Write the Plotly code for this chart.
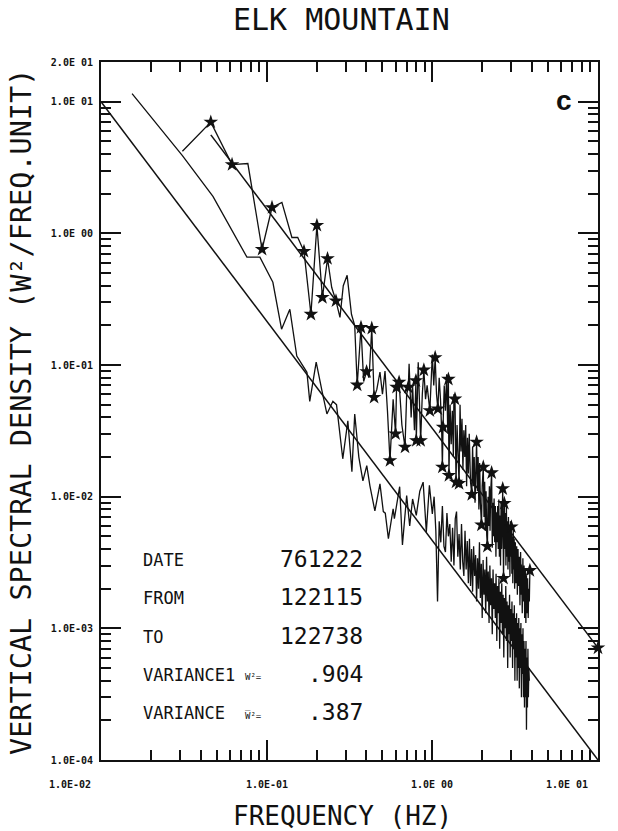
import math
import plotly.graph_objects as go

# ---- spectral estimates (frequency in Hz, density in W^2 per Hz) ----
FREQ_UPPER = [0.031, 0.046, 0.0618, 0.077, 0.0938, 0.1077, 0.1236, 0.142, 0.154, 0.168,
              0.185, 0.201, 0.217, 0.233, 0.247, 0.262, 0.277, 0.290, 0.306, 0.325,
              0.340, 0.352, 0.371, 0.385, 0.401, 0.415, 0.431, 0.445, 0.462, 0.483,
              0.500, 0.518, 0.536, 0.555, 0.580, 0.600, 0.608, 0.630, 0.655, 0.684,
              0.700, 0.716, 0.724, 0.745, 0.760, 0.780, 0.796, 0.800, 0.822, 0.850,
              0.870, 0.889, 0.910, 0.930, 0.966, 0.985,
              1.00, 1.02, 1.04, 1.06, 1.08, 1.10, 1.12, 1.14, 1.15, 1.16,
              1.18, 1.20, 1.22, 1.24, 1.25, 1.26, 1.28, 1.30, 1.32, 1.34,
              1.35, 1.37, 1.39, 1.41, 1.43, 1.45, 1.47, 1.49, 1.51, 1.53,
              1.55, 1.57, 1.59, 1.61, 1.63, 1.65, 1.67, 1.70, 1.73, 1.75,
              1.77, 1.79, 1.81, 1.83, 1.85, 1.87, 1.89, 1.91, 1.93, 1.95,
              1.98, 2.00, 2.03, 2.05, 2.07, 2.09, 2.11, 2.13, 2.15, 2.17,
              2.19, 2.21, 2.23, 2.25, 2.28, 2.30, 2.32, 2.34, 2.36, 2.38,
              2.40, 2.42, 2.44, 2.46, 2.48, 2.50, 2.52, 2.54, 2.56, 2.58,
              2.60, 2.62, 2.64, 2.66, 2.69, 2.72, 2.74, 2.76, 2.78, 2.80,
              2.82, 2.84, 2.86, 2.88, 2.90, 2.92, 2.94, 2.96, 2.98, 3.00,
              3.02, 3.04, 3.06, 3.08, 3.10, 3.12, 3.14, 3.17, 3.20, 3.23,
              3.26, 3.29, 3.32, 3.35, 3.38, 3.41, 3.44, 3.46, 3.49, 3.52,
              3.55, 3.58, 3.61, 3.64, 3.67, 3.70, 3.73, 3.76, 3.79, 3.82,
              3.85, 3.88]
SPEC_UPPER = [4.2, 7.0, 3.33, 3.39, 0.757, 1.57, 1.72, 0.93, 0.93, 0.73,
              0.243, 1.15, 0.326, 0.643, 0.388, 0.307, 0.23, 0.40, 0.48, 0.243,
              0.199, 0.0705, 0.193, 0.075, 0.089, 0.08, 0.19, 0.0569, 0.065, 0.0885,
              0.06, 0.09, 0.045, 0.0188, 0.055, 0.030, 0.0678, 0.074, 0.035, 0.0238,
              0.06, 0.0678, 0.102, 0.04, 0.07, 0.032, 0.076, 0.0267, 0.105, 0.0267,
              0.06, 0.0917, 0.055, 0.07, 0.045, 0.09,
              0.12, 0.07, 0.114, 0.06, 0.0464, 0.08, 0.055, 0.03, 0.0168, 0.0337,
              0.07, 0.045, 0.085, 0.03, 0.078, 0.0145, 0.05, 0.025, 0.045, 0.02,
              0.06, 0.0552, 0.0129, 0.035, 0.018, 0.0126, 0.05, 0.022, 0.039, 0.016,
              0.032, 0.02, 0.035, 0.012, 0.028, 0.015, 0.03, 0.013, 0.0104, 0.024,
              0.012, 0.02, 0.009, 0.022, 0.026, 0.011, 0.02, 0.008, 0.018, 0.009,
              0.0061, 0.012, 0.0168, 0.007, 0.013, 0.0055, 0.011, 0.0051, 0.0042, 0.01,
              0.006, 0.012, 0.0055, 0.011, 0.0152, 0.0041, 0.009, 0.005, 0.0097, 0.0045,
              0.0085, 0.0035, 0.0075, 0.0045, 0.0085, 0.004, 0.0095, 0.0035, 0.0072, 0.003,
              0.009, 0.004, 0.0075, 0.0115, 0.0024, 0.0089, 0.004, 0.0075, 0.003, 0.0084,
              0.0035, 0.0065, 0.0028, 0.007, 0.0032, 0.006, 0.0025, 0.0065, 0.0035, 0.0059,
              0.0026, 0.005, 0.0022, 0.0055, 0.0028, 0.0048, 0.002, 0.0045, 0.0022, 0.0042,
              0.0018, 0.004, 0.0021, 0.0035, 0.0015, 0.0038, 0.0018, 0.0027, 0.0013, 0.0034,
              0.0016, 0.003, 0.0012, 0.0028, 0.0011, 0.0025, 0.0013, 0.0024, 0.0012, 0.002,
              0.0016, 0.00275]
STARRED_UPPER = [0, 1, 1, 0, 1, 1, 0, 0, 0, 1,
                 1, 1, 1, 1, 0, 1, 0, 0, 0, 0,
                 0, 1, 1, 0, 1, 0, 1, 1, 0, 0,
                 0, 0, 0, 1, 0, 1, 1, 1, 0, 1,
                 0, 1, 0, 0, 0, 0, 1, 1, 0, 1,
                 0, 1, 0, 0, 1, 0,
                 0, 0, 1, 0, 1, 0, 0, 0, 1, 1,
                 0, 0, 0, 0, 1, 1, 0, 0, 0, 0,
                 0, 1, 1, 0, 0, 1, 0, 0, 0, 0,
                 0, 0, 0, 0, 0, 0, 0, 0, 1, 0,
                 0, 0, 0, 0, 1, 0, 0, 0, 0, 0,
                 1, 0, 1, 0, 0, 0, 0, 0, 1, 0,
                 0, 0, 0, 0, 1, 0, 0, 0, 0, 0,
                 0, 0, 0, 0, 0, 0, 0, 0, 0, 0,
                 0, 0, 0, 1, 1, 1, 0, 0, 0, 0,
                 0, 0, 0, 0, 0, 0, 0, 0, 0, 1,
                 0, 0, 0, 0, 0, 0, 0, 0, 0, 0,
                 0, 0, 0, 0, 0, 0, 0, 1, 0, 0,
                 0, 0, 0, 0, 0, 0, 0, 0, 0, 0,
                 0, 1]

FREQ_LOWER = [0.0154, 0.031, 0.0474, 0.060, 0.076, 0.091, 0.109, 0.123, 0.138, 0.152,
              0.175, 0.182, 0.199, 0.216, 0.231, 0.251, 0.264, 0.288, 0.309, 0.327,
              0.340, 0.360, 0.381, 0.402, 0.420, 0.450, 0.483, 0.506, 0.520, 0.543,
              0.580, 0.590, 0.635, 0.660, 0.700, 0.730, 0.760, 0.800, 0.840, 0.880,
              0.920, 0.960,
              1.000, 1.025, 1.050, 1.075, 1.100, 1.125, 1.150, 1.175, 1.200, 1.225,
              1.250, 1.275, 1.300, 1.325, 1.350, 1.375, 1.400, 1.425, 1.450, 1.475,
              1.500, 1.525, 1.550, 1.575, 1.600, 1.625, 1.650, 1.675, 1.700, 1.725,
              1.750, 1.775, 1.800, 1.825, 1.850, 1.875, 1.900, 1.925, 1.950, 1.975,
              2.000, 2.025, 2.050, 2.075, 2.100, 2.125, 2.150, 2.175, 2.200, 2.225,
              2.250, 2.275, 2.300, 2.325, 2.350, 2.375, 2.400, 2.425, 2.450, 2.475,
              2.500, 2.525, 2.550, 2.575, 2.600, 2.625, 2.650, 2.675, 2.700, 2.725,
              2.750, 2.775, 2.800, 2.825, 2.850, 2.875, 2.900, 2.925, 2.950, 2.975,
              3.000, 3.025, 3.050, 3.075, 3.100, 3.125, 3.150, 3.175, 3.200, 3.225,
              3.250, 3.275, 3.300, 3.325, 3.350, 3.375, 3.400, 3.425, 3.450, 3.475,
              3.500, 3.525, 3.550, 3.575, 3.600, 3.625, 3.650, 3.675, 3.700, 3.725,
              3.750, 3.775, 3.800, 3.825, 3.850]
SPEC_LOWER = [11.5, 3.9, 1.91, 1.13, 0.66, 0.66, 0.425, 0.187, 0.265, 0.117,
              0.088, 0.053, 0.105, 0.063, 0.0425, 0.053, 0.05, 0.0194, 0.0377, 0.0155,
              0.0425, 0.02, 0.0132, 0.0172, 0.0121, 0.0078, 0.0125, 0.0077, 0.0075, 0.0048,
              0.0081, 0.0068, 0.0119, 0.0043, 0.0102, 0.006, 0.0096, 0.0072, 0.011, 0.0129,
              0.0054, 0.0122,
              0.0074, 0.010, 0.0055, 0.0016, 0.0065, 0.0045, 0.0085, 0.0042, 0.0038, 0.0075,
              0.005, 0.0062, 0.0032, 0.0058, 0.003, 0.0068, 0.0077, 0.0035, 0.0052, 0.0028,
              0.0062, 0.0032, 0.0025, 0.0055, 0.0028, 0.0046, 0.0022, 0.0048, 0.0021, 0.004,
              0.0019, 0.0042, 0.0025, 0.0036, 0.0016, 0.0034, 0.002, 0.0045, 0.0017, 0.0031,
              0.0012, 0.0033, 0.0018, 0.0028, 0.0013, 0.0035, 0.0016, 0.0027, 0.0011, 0.003,
              0.0015, 0.0024, 0.0009, 0.0028, 0.0014, 0.0022, 0.0012, 0.0026, 0.0008, 0.0021,
              0.0013, 0.0024, 0.0007, 0.0019, 0.0011, 0.0022, 0.0009, 0.0018, 0.0006, 0.0017,
              0.0010, 0.0021, 0.0008, 0.0016, 0.0005, 0.0015, 0.0009, 0.0018, 0.0006, 0.0014,
              0.0008, 0.0016, 0.0005, 0.0013, 0.0007, 0.0015, 0.0004, 0.0012, 0.0006, 0.0013,
              0.0004, 0.0011, 0.0005, 0.0012, 0.00035, 0.001, 0.0005, 0.0011, 0.0003, 0.0009,
              0.00045, 0.001, 0.0003, 0.0008, 0.00025, 0.0007, 0.0003, 0.0008, 0.00017, 0.0006,
              0.00025, 0.0007, 0.0003, 0.0005, 0.0004]

# -5/3 reference lines (end points)
FIT_UPPER_F = [0.046, 10.0]
FIT_UPPER_S = [5.6, 7.1e-4]
FIT_LOWER_F = [0.01, 10.0]
FIT_LOWER_S = [10.0, 1.0e-4]

# axis labelling
X_TICKS = [0.01, 0.1, 1.0, 10.0]
X_TICK_TEXT = ["1.0E-02", "1.0E-01", "1.0E 00", "1.0E 01"]
X_TICK_ANCHOR = ["right", "center", "center", "right"]
Y_TICKS = [1e-4, 1e-3, 1e-2, 1e-1, 1.0, 10.0, 20.0]
Y_TICK_TEXT = ["1.0E-04", "1.0E-03", "1.0E-02", "1.0E-01", "1.0E 00", "1.0E 01", "2.0E 01"]

# run information
INFO_LABELS = ["DATE", "FROM", "TO", "VARIANCE1", "VARIANCE"]
INFO_UNITS = ["", "", "", "W²=", "W\u0305²="]
INFO_VALUES = ["761222", "122115", "122738", ".904", ".387"]

W, H = 618, 831
L, R, T, B = 101, 20, 62, 71
PW, PH = W - L - R, H - T - B
MONO = "DejaVu Sans Mono"
INK = "#111111"


def px_x(p):
    return (p - L) / PW


def px_y(p):
    return (H - B - p) / PH


def minor_ticks(lo_exp, hi_exp, top=None):
    vals = []
    for e in range(lo_exp, hi_exp):
        for m in range(2, 10):
            v = m * 10.0 ** e
            if top is None or v <= top:
                vals.append(v)
    return vals


def label(text, x, y, size, xanchor="center", family=MONO, **kw):
    return dict(text=text, x=x, y=y, xref=kw.pop("xref", "paper"), yref="paper",
                xanchor=xanchor, yanchor="middle", showarrow=False,
                font=dict(family=family, size=size, color=INK, **kw.pop("font", {})), **kw)


fig = go.Figure()

fig.add_trace(go.Scatter(x=FIT_LOWER_F, y=FIT_LOWER_S, mode="lines",
                         line=dict(color=INK, width=1.5), hoverinfo="skip"))
fig.add_trace(go.Scatter(x=FIT_UPPER_F, y=FIT_UPPER_S, mode="lines",
                         line=dict(color=INK, width=1.5), hoverinfo="skip"))
fig.add_trace(go.Scatter(x=FREQ_LOWER, y=SPEC_LOWER, mode="lines",
                         line=dict(color=INK, width=1.3)))
fig.add_trace(go.Scatter(x=FREQ_UPPER, y=SPEC_UPPER, mode="lines",
                         line=dict(color=INK, width=1.3)))
star_f = [f for f, s in zip(FREQ_UPPER, STARRED_UPPER) if s]
star_s = [v for v, s in zip(SPEC_UPPER, STARRED_UPPER) if s]
star_f.append(FIT_UPPER_F[-1])
star_s.append(FIT_UPPER_S[-1])
fig.add_trace(go.Scatter(x=star_f, y=star_s, mode="markers", cliponaxis=False,
                         marker=dict(symbol="star", size=11, color=INK,
                                     line=dict(width=0))))

axis_common = dict(
    type="log", showgrid=False, zeroline=False, showline=True,
    linecolor=INK, linewidth=2, mirror="allticks",
    ticks="inside", ticklen=20, tickwidth=1.5, tickcolor=INK,
    tickfont=dict(family=MONO, size=10, color=INK, weight="bold"),
)

fig.update_xaxes(
    range=[-2, 1], tickmode="array", tickvals=X_TICKS, showticklabels=False,
    minor=dict(tickmode="array", tickvals=minor_ticks(-2, 1), ticks="inside",
               ticklen=10, tickwidth=1.5, tickcolor=INK, showgrid=False),
    **axis_common,
)
fig.update_yaxes(
    range=[-4, 1.3015], tickmode="array", tickvals=Y_TICKS, ticktext=Y_TICK_TEXT,
    ticklabelstandoff=4,
    minor=dict(tickmode="array", tickvals=minor_ticks(-4, 2, top=19.9), ticks="inside",
               ticklen=10, tickwidth=1.5, tickcolor=INK, showgrid=False),
    **axis_common,
)

ann = []
# frequency tick labels placed on the x scale
for v, txt, anc in zip(X_TICKS, X_TICK_TEXT, X_TICK_ANCHOR):
    ann.append(label(txt, math.log10(v), px_y(784), 10, xanchor=anc, xref="x",
                     xshift=(-8 if anc == "right" else 0), font=dict(weight="bold")))
ann.append(label("ELK MOUNTAIN", px_x(341), px_y(20), 30))
ann.append(label("FREQUENCY (HZ)", px_x(342), px_y(816), 26))
ann.append(label("VERTICAL SPECTRAL DENSITY (W²/FREQ.UNIT)", px_x(21), px_y(412), 28.5,
                 textangle=-90))
ann.append(label("<b>c</b>", px_x(564), px_y(100), 28, family="Liberation Sans"))

rows_y = [560, 598, 637, 675, 713]
for lab, unit, val, yy in zip(INFO_LABELS, INFO_UNITS, INFO_VALUES, rows_y):
    ann.append(label(lab, px_x(141), px_y(yy), 17, xanchor="left"))
    if unit:
        ann.append(label(unit, px_x(243), px_y(yy + 2), 9, xanchor="left"))
    ann.append(label(val, px_x(365), px_y(yy - 1), 23, xanchor="right"))

fig.update_layout(
    width=W, height=H, margin=dict(l=L, r=R, t=T, b=B, pad=0),
    paper_bgcolor="white", plot_bgcolor="white", showlegend=False,
    annotations=ann,
)

fig.write_html("out.html")
